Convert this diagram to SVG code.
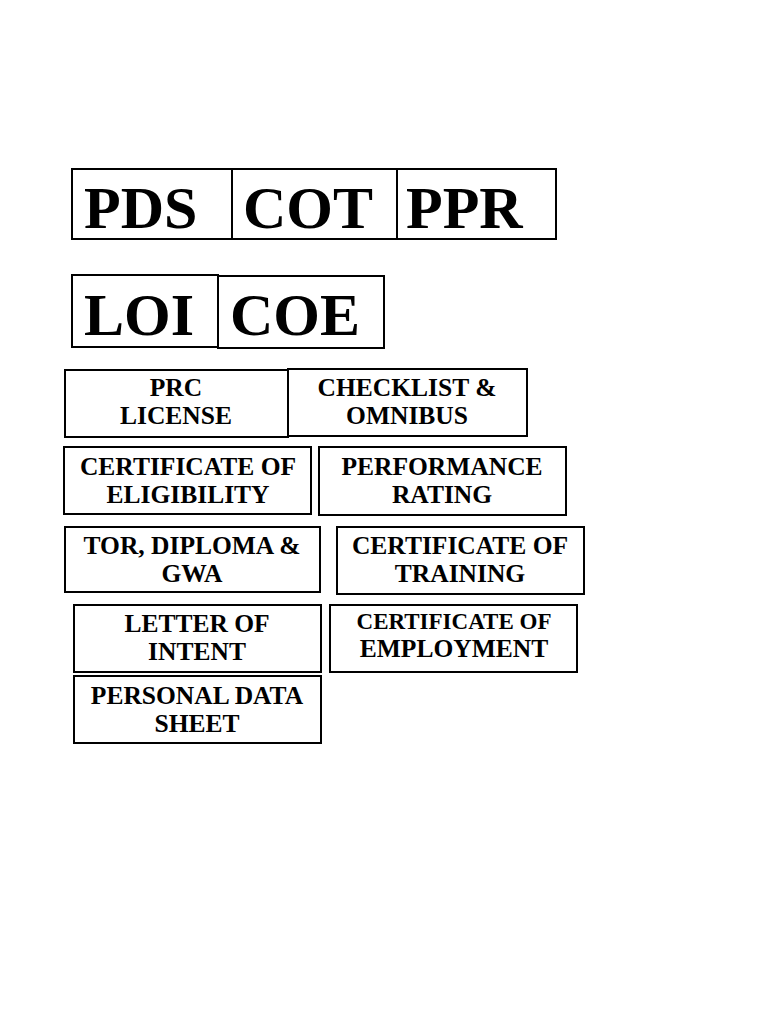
<svg xmlns="http://www.w3.org/2000/svg" width="768" height="1024" viewBox="0 0 768 1024">
<style>
.b{fill:#fff;stroke:#000;stroke-width:2}
.big{font-family:"Liberation Serif","Times New Roman",serif;font-weight:bold;font-size:60px;fill:#000}
.t{font-family:"Liberation Serif","Times New Roman",serif;font-weight:bold;font-size:25.5px;fill:#000;text-anchor:middle}
</style>
<rect width="768" height="1024" fill="#fff"/>
<g id="pds"><rect class="b" x="72" y="169" width="160" height="70"/><text class="big" x="84" y="228">PDS</text></g>
<g id="cot"><rect class="b" x="232" y="169" width="165" height="70"/><text class="big" x="243" y="228">COT</text></g>
<g id="ppr"><rect class="b" x="397" y="169" width="159" height="70"/><text class="big" x="406" y="228">PPR</text></g>
<g id="loi"><rect class="b" x="72" y="275" width="146" height="72"/><text class="big" x="84" y="335">LOI</text></g>
<g id="coe"><rect class="b" x="218" y="276" width="166" height="72"/><text class="big" x="230" y="335">COE</text></g>
<g id="prc"><rect class="b" x="65" y="370" width="223" height="67"/><text class="t" x="176" y="396">PRC</text><text class="t" x="176" y="424">LICENSE</text></g>
<g id="checklist"><rect class="b" x="288" y="369" width="239" height="67"/><text class="t" x="407" y="396">CHECKLIST &amp;</text><text class="t" x="407" y="424">OMNIBUS</text></g>
<g id="coeligibility"><rect class="b" x="64" y="447" width="247" height="67"/><text class="t" x="188" y="475">CERTIFICATE OF</text><text class="t" x="188" y="503">ELIGIBILITY</text></g>
<g id="performance"><rect class="b" x="319" y="447" width="247" height="68"/><text class="t" x="442" y="475">PERFORMANCE</text><text class="t" x="442" y="503">RATING</text></g>
<g id="tor"><rect class="b" x="65" y="527" width="255" height="65"/><text class="t" x="192" y="554">TOR, DIPLOMA &amp;</text><text class="t" x="192" y="582">GWA</text></g>
<g id="training"><rect class="b" x="337" y="527" width="247" height="67"/><text class="t" x="460" y="554">CERTIFICATE OF</text><text class="t" x="460" y="582">TRAINING</text></g>
<g id="letter"><rect class="b" x="74" y="605" width="247" height="67"/><text class="t" x="197" y="632">LETTER OF</text><text class="t" x="197" y="660">INTENT</text></g>
<g id="employment"><rect class="b" x="330" y="605" width="247" height="67"/><text class="t" x="454" y="629" style="font-size:23px">CERTIFICATE OF</text><text class="t" x="454" y="657">EMPLOYMENT</text></g>
<g id="pdsheet"><rect class="b" x="74" y="676" width="247" height="67"/><text class="t" x="197" y="704">PERSONAL DATA</text><text class="t" x="197" y="732">SHEET</text></g>
<g id="connectors"></g>
</svg>
